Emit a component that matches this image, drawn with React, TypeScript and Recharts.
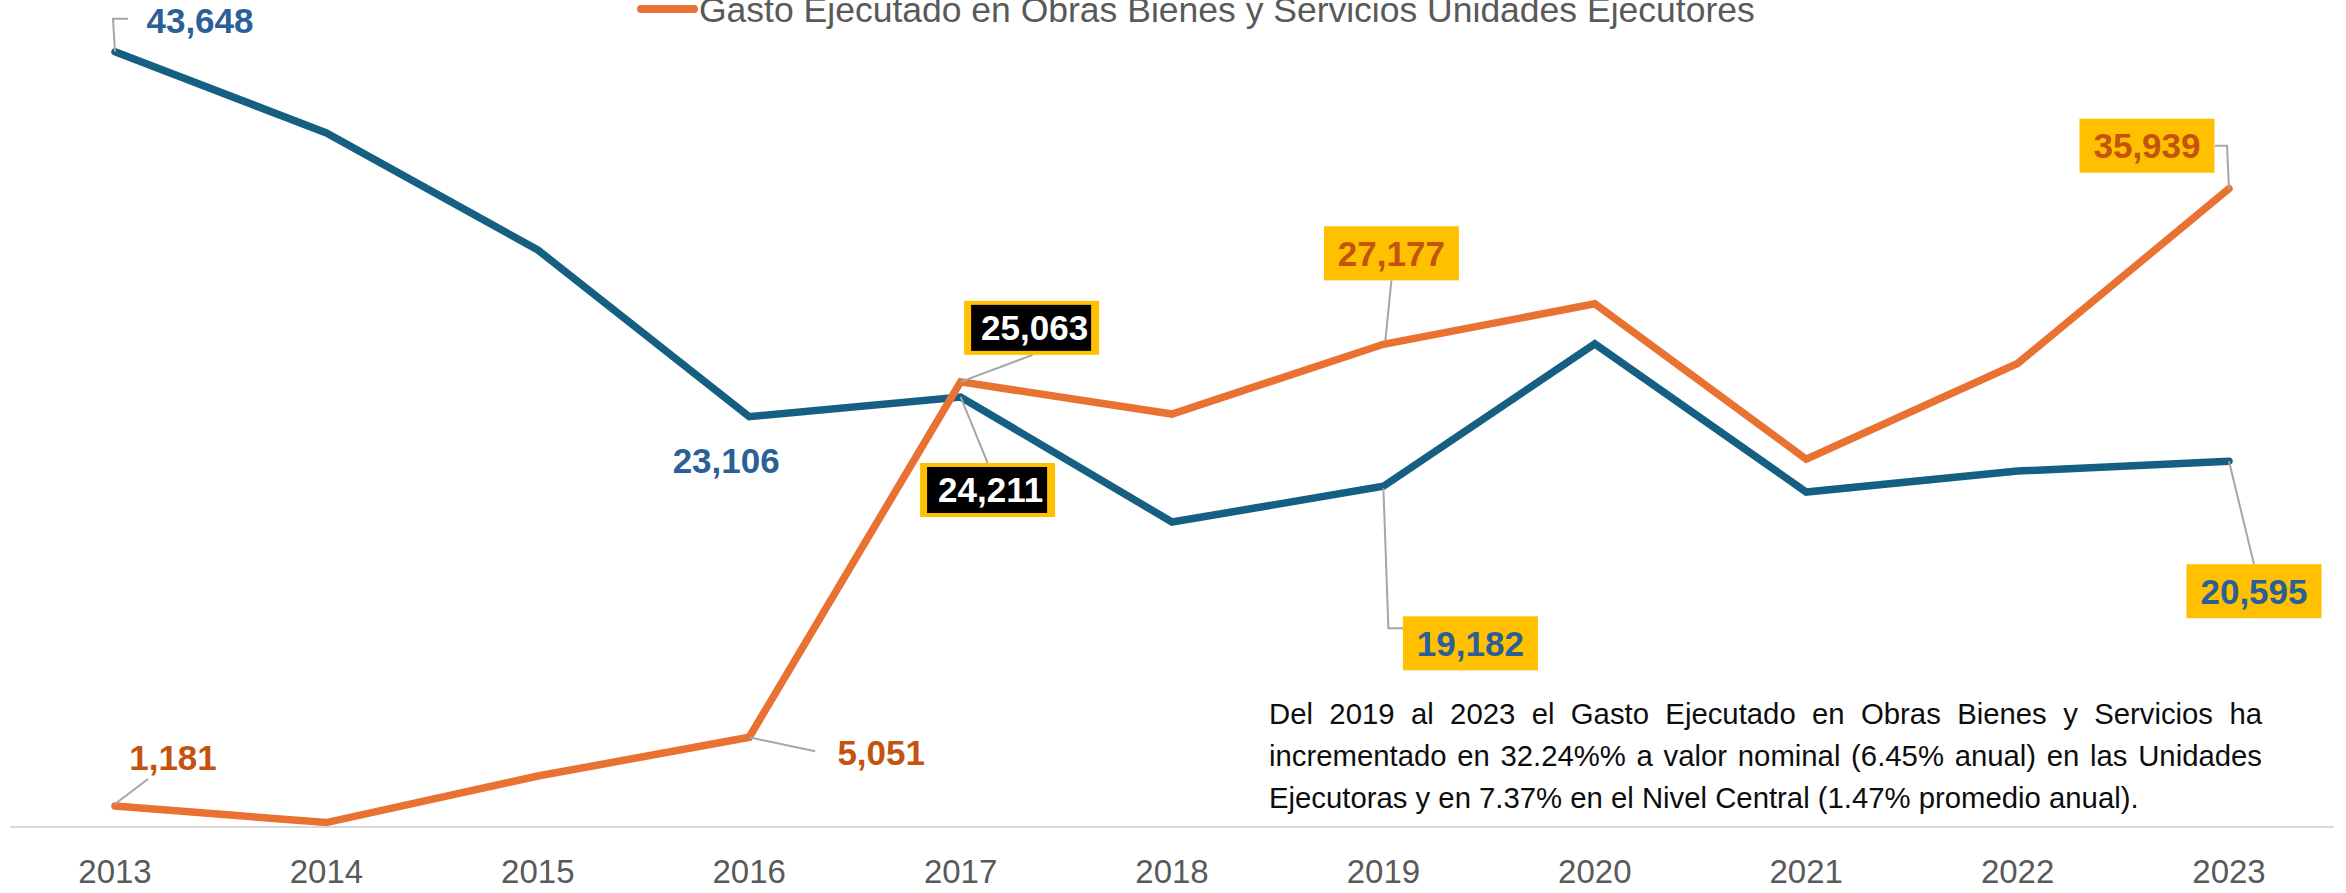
import React from 'react';
import { LineChart, Line, XAxis, YAxis, LabelList, Legend } from 'recharts';

const years = ['2013', '2014', '2015', '2016', '2017', '2018', '2019', '2020', '2021', '2022', '2023'];
const nivelCentral = [43648, 39080, 32490, 23106, 24211, 17170, 19182, 27200, 18860, 20040, 20595];
const unidadesEjecutoras = [1181, 250, 2870, 5051, 25063, 23250, 27177, 29460, 20710, 26100, 35939];

const seriesNames = {
  nc: 'Gasto Ejecutado en Obras Bienes y Servicios Nivel Central',
  ue: 'Gasto Ejecutado en Obras Bienes y Servicios Unidades Ejecutores',
};

const noteLines = [
  'Del 2019 al 2023 el Gasto Ejecutado en Obras Bienes y Servicios ha',
  'incrementado en 32.24%% a valor nominal (6.45% anual) en las Unidades',
  'Ejecutoras y en 7.37% en el Nivel Central (1.47% promedio anual).',
];

const data = years.map((y, i) => ({ year: y, nc: nivelCentral[i], ue: unidadesEjecutoras[i] }));

const BLUE = '#156082';
const ORANGE = '#E97132';
const BLUE_TXT = '#2B5F97';
const ORANGE_TXT = '#C4530F';
const FONT = '"Liberation Sans", Arial, sans-serif';

type LabelCfg = { dx: number; dy: number; kind: 'plain' | 'yellow' | 'black'; leader?: number[][] } | null;

const ncLabels: LabelCfg[] = [
  { dx: 85, dy: -31, kind: 'plain', leader: [[0, 0], [-2, -33], [13, -33]] },
  null, null,
  { dx: -23, dy: 44, kind: 'plain' },
  { dx: 27, dy: 93, kind: 'black', leader: [[0, 0], [27, 66]] },
  null,
  { dx: 87, dy: 157, kind: 'yellow', leader: [[0, 2], [5, 142], [20, 142]] },
  null, null, null,
  { dx: 25, dy: 130, kind: 'yellow', leader: [[0, 0], [25, 103]] },
];

const ueLabels: LabelCfg[] = [
  { dx: 58, dy: -49, kind: 'plain', leader: [[0, -2], [33, -27]] },
  null, null,
  { dx: 132, dy: 15, kind: 'plain', leader: [[0, 0], [66, 14]] },
  { dx: 71, dy: -54, kind: 'black', leader: [[0, 0], [72, -27]] },
  null,
  { dx: 8, dy: -91, kind: 'yellow', leader: [[2, -4], [8, -64]] },
  null, null, null,
  { dx: -82, dy: -43, kind: 'yellow', leader: [[0, 0], [-2, -43], [-14, -43]] },
];

const fmt = (v: number) => v.toLocaleString('en-US');

const makeLabel = (cfgs: LabelCfg[], color: string) => (props: any) => {
  const { x, y, value, index } = props;
  const cfg = cfgs[index];
  if (!cfg) return null;
  const cx = x + cfg.dx;
  const cy = y + cfg.dy;
  const w = 135;
  const h = 54;
  const pts = cfg.leader ? cfg.leader.map((p) => `${x + p[0]},${y + p[1]}`).join(' ') : null;
  return (
    <g>
      {pts && <polyline points={pts} fill="none" stroke="#A6A6A6" strokeWidth={2} />}
      {cfg.kind === 'yellow' && <rect x={cx - w / 2} y={cy - h / 2} width={w} height={h} fill="#FFC000" />}
      {cfg.kind === 'black' && (
        <g>
          <rect x={cx - w / 2} y={cy - h / 2} width={w} height={h} fill="#FFC000" />
          <rect x={cx - w / 2 + 7} y={cy - h / 2 + 4} width={w - 15} height={h - 8} fill="#000" />
        </g>
      )}
      <text
        x={cfg.kind === 'black' ? cx + 3 : cx}
        y={cy + 12.5}
        textAnchor="middle"
        fontFamily={FONT}
        fontWeight="bold"
        fontSize={35}
        fill={cfg.kind === 'black' ? '#FFFFFF' : color}
      >
        {fmt(value)}
      </text>
    </g>
  );
};

const Tick = (props: any) => {
  const { x, y, payload } = props;
  return (
    <text x={x} y={y + 48} textAnchor="middle" fontFamily={FONT} fontSize={33} fill="#595959">
      {payload.value}
    </text>
  );
};

const LegendContent = () => (
  <div style={{ position: 'relative', height: 0 }}>
    <svg width={2346} height={40} style={{ position: 'absolute', left: 0, top: 0, overflow: 'visible' }}>
      <line x1={641} y1={9} x2={694} y2={9} stroke={ORANGE} strokeWidth={8} strokeLinecap="round" />
      <text x={699} y={22} fontFamily={FONT} fontSize={35.5} fill="#595959">
        {seriesNames.ue}
      </text>
    </svg>
  </div>
);

export default function App() {
  return (
    <div style={{ position: 'absolute', left: 0, top: 0, width: 2346, height: 893, background: '#fff', overflow: 'hidden' }}>
      <LineChart width={2346} height={893} data={data} margin={{ top: 10, right: 12, bottom: 36, left: 10 }}>
        <XAxis
          dataKey="year"
          padding={{ left: 105, right: 105 }}
          axisLine={{ stroke: '#D9D9D9', strokeWidth: 2 }}
          tickLine={false}
          tick={<Tick />}
          interval={0}
          height={30}
        />
        <YAxis hide domain={[0, 46000]} />
        <Legend
          verticalAlign="top"
          content={<LegendContent />}
          wrapperStyle={{ position: 'absolute', left: 0, top: 0, width: 2346, height: 0 }}
        />
        <Line
          type="linear"
          dataKey="nc"
          name={seriesNames.nc}
          stroke={BLUE}
          strokeWidth={7.5}
          strokeLinecap="round"
          dot={false}
          isAnimationActive={false}
        >
          <LabelList dataKey="nc" content={makeLabel(ncLabels, BLUE_TXT)} />
        </Line>
        <Line
          type="linear"
          dataKey="ue"
          name={seriesNames.ue}
          stroke={ORANGE}
          strokeWidth={7.5}
          strokeLinecap="round"
          dot={false}
          isAnimationActive={false}
        >
          <LabelList dataKey="ue" content={makeLabel(ueLabels, ORANGE_TXT)} />
        </Line>
      </LineChart>
      <div style={{ position: 'absolute', left: 1269, top: 693, width: 993, fontFamily: FONT, fontSize: 29.3, lineHeight: '42px', color: '#0D0D0D' }}>
        {noteLines.map((t, i) => (
          <div
            key={i}
            style={{
              textAlign: 'justify',
              textAlignLast: i < noteLines.length - 1 ? 'justify' : 'left',
              whiteSpace: 'nowrap',
            }}
          >
            {t}
          </div>
        ))}
      </div>
    </div>
  );
}
